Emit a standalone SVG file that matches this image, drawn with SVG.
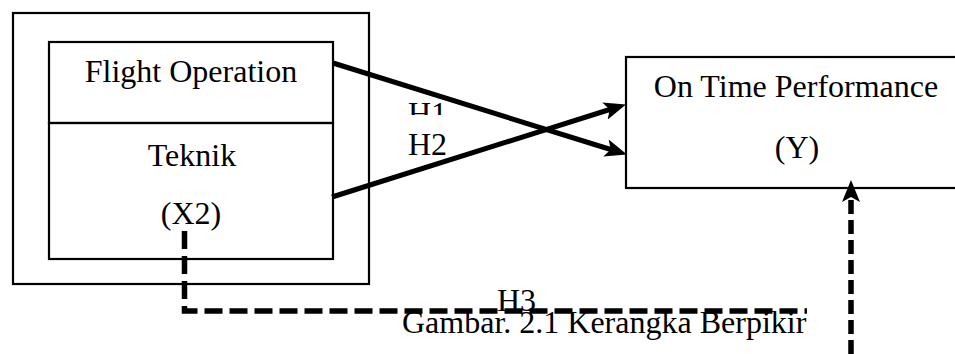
<svg xmlns="http://www.w3.org/2000/svg" width="955" height="354" viewBox="0 0 955 354">
<style>
.box{fill:none;stroke:#000;stroke-width:2.2}
.t{font-family:"Liberation Serif","Times New Roman",serif;font-size:32px;fill:#000}
.m{text-anchor:middle}
.arr{fill:none;stroke:#000;stroke-width:5}
.dash{fill:none;stroke:#000;stroke-width:5.5}
</style>
<defs>
<marker id="ah" markerUnits="userSpaceOnUse" viewBox="0 0 22 18" refX="10" refY="9" markerWidth="22" markerHeight="18" orient="auto">
<path d="M0,0 L22,9 L0,18 L5,9 z" fill="#000"/>
</marker>
<clipPath id="h1clip"><rect x="390" y="90" width="80" height="25"/></clipPath>
</defs>
<rect width="955" height="354" fill="#fff"/>
<g id="outer"><rect class="box" x="13" y="13" width="356" height="271"/></g>
<g id="flight-operation">
<rect class="box" x="49" y="42" width="284" height="81"/>
<text class="t m" x="191" y="82">Flight Operation</text>
</g>
<g id="teknik">
<rect class="box" x="49" y="123" width="284" height="136"/>
<text class="t m" x="192" y="166">Teknik</text>
<text class="t m" x="191" y="224">(X2)</text>
</g>
<g id="otp">
<rect class="box" x="626" y="57" width="340" height="131"/>
<text class="t m" x="796" y="97">On Time Performance</text>
<text class="t m" x="797" y="158">(Y)</text>
</g>
<g id="labels">
<text class="t" x="408" y="124" clip-path="url(#h1clip)">H1</text>
<text class="t" x="408" y="155">H2</text>
<text class="t" x="497" y="311">H3</text>
<text class="t" x="402" y="333">Gambar. 2.1 Kerangka Berpikir</text>
</g>
<g id="connectors">
<path class="arr" d="M333,63 L615.5,151" marker-end="url(#ah)"/>
<path class="arr" d="M332,197 L614.5,108" marker-end="url(#ah)"/>
<path class="dash" d="M184.5,231 V311 H807" stroke-dasharray="18 7"/>
<path class="dash" d="M851,354 V192" stroke-dasharray="14 6" marker-end="url(#ah)"/>
</g>
</svg>
